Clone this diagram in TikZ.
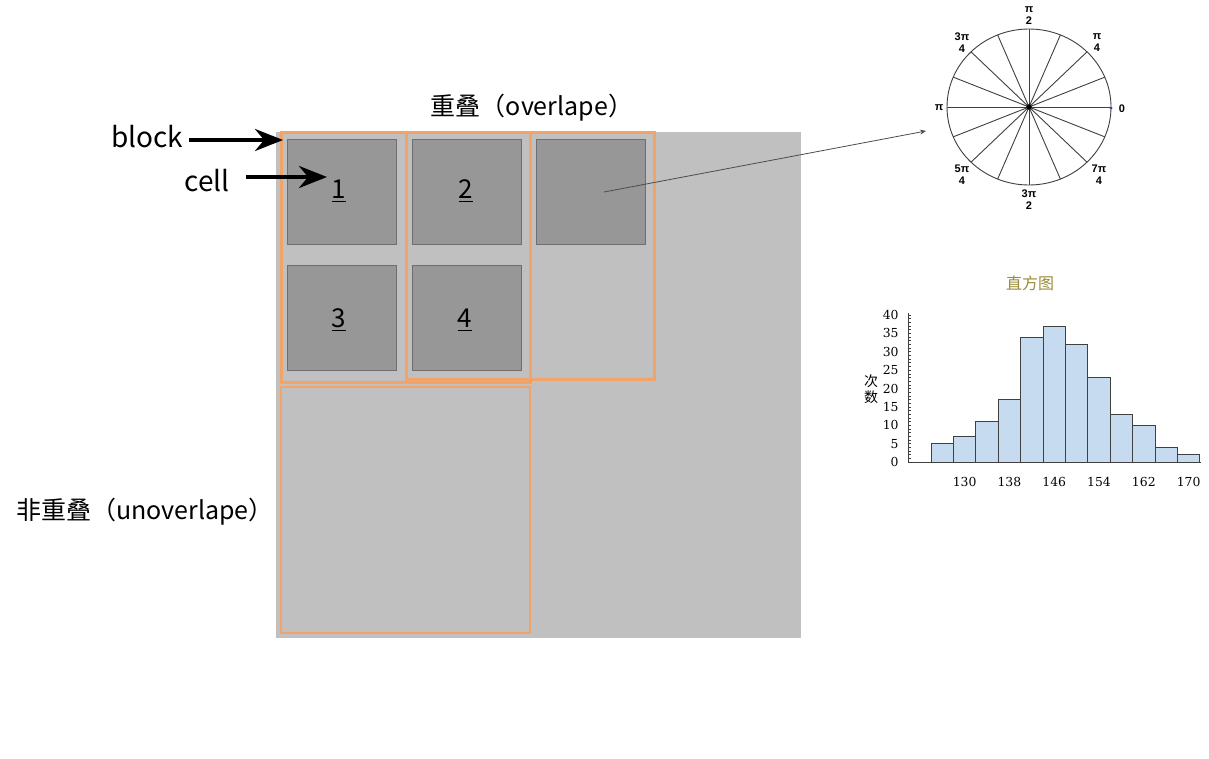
\documentclass[tikz,border=0pt]{standalone}
\usepackage{fontspec}
\usepackage{xcolor}
\usetikzlibrary{arrows.meta}
\usetikzlibrary{math}
\newfontfamily\cjk{Noto Sans CJK SC}
\newfontfamily\numfont{DejaVu Serif}
\newfontfamily\dialfont{Liberation Sans}
\definecolor{sheet}{HTML}{C0C0C0}
\definecolor{cellgray}{HTML}{979797}
\definecolor{celledge}{HTML}{6E6E6E}
\definecolor{blockorange}{HTML}{F2A368}
\definecolor{barblue}{HTML}{C6DAF0}
\definecolor{titleolive}{HTML}{9A8C3A}

\begin{document}
\begin{tikzpicture}[x=0.5pt,y=-0.5pt,
  cellbox/.style={draw=celledge,fill=cellgray,line width=0.5pt,
    minimum width=54.5pt,minimum height=52.5pt,inner sep=0pt},
  blockline/.style={draw=blockorange,line width=1.5pt},
  blockthin/.style={draw=blockorange,line width=0.8pt},
  word/.style={font=\cjk\fontsize{14}{16}\selectfont,inner sep=1pt},
  tag/.style={font=\cjk\fontsize{12.5}{14}\selectfont,inner sep=1pt},
  numtxt/.style={font=\cjk\fontsize{13}{15}\selectfont,inner sep=1pt},
  bigarrow/.style={line width=2pt,-{Stealth[length=14pt,width=11pt]}},
  pointer/.style={draw=black!70,line width=0.4pt,-{Stealth[length=3pt,width=2.5pt]}},
  dialline/.style={draw=black!75,line width=0.45pt},
  dialtxt/.style={font=\dialfont\bfseries\fontsize{5.5}{6}\selectfont,align=center,inner sep=0pt},
  histbar/.style={draw=black!75,fill=barblue,line width=0.5pt},
  axisline/.style={draw=black!75,line width=0.5pt},
  ylab/.style={font=\numfont\fontsize{6.2}{7}\selectfont,anchor=east,inner sep=0pt},
  xlab/.style={font=\numfont\fontsize{6.2}{7}\selectfont,inner sep=0pt}]
\tikzmath{
\hx=931; \hy=462; \bw=22.4; \hu=3.675;
\cx=1029; \cy=107; \rx=82; \ry=78;
}
\fill[white] (0,0) rectangle (1209,759);
\useasboundingbox (0,0) rectangle (1209,759);

% image with cells
\fill[sheet] (276,132) rectangle (801,638);
\node[cellbox] (c1) at (341.5,192.5) {};
\node[cellbox] (c2) at (466.5,192.5) {};
\node[cellbox] (c5) at (591,192.5) {};
\node[cellbox] (c3) at (341.5,317.5) {};
\node[cellbox] (c4) at (466.5,317.5) {};
\node[numtxt] (n1) at (339,191) {\underline{1}};
\node[numtxt] (n2) at (466,191) {\underline{2}};
\node[numtxt] (n3) at (339,320) {\underline{3}};
\node[numtxt] (n4) at (465,320) {\underline{4}};

% blocks
\draw[blockline] (281,133) rectangle (530,382);
\draw[blockline] (406,133) rectangle (654,379);
\draw[blockthin] (281,387) rectangle (530,633);

\node[tag] (ovl) at (532,108) {重叠（overlape）};
\node[tag] (unovl) at (145,512) {非重叠（unoverlape）};

\node[word] (blocktxt) at (147,137) {block};
\node[word] (celltxt) at (207,181) {cell};
\coordinate (blockhit) at (283,140);
\coordinate (cellhit) at (327,177);
\draw[bigarrow] ([xshift=2pt]blocktxt.east |- blockhit) -- (blockhit);
\draw[bigarrow] ([xshift=7pt]celltxt.east |- cellhit) -- (cellhit);

% dial
\coordinate (dialc) at (\cx,\cy);
\draw[dialline] (dialc) ellipse [x radius=41pt, y radius=39pt];
\foreach \a in {0,22.5,...,337.5}
  \draw[dialline] (dialc) -- ({\cx+\rx*cos(\a)},{\cy-\ry*sin(\a)});
\fill (dialc) circle (1.4pt);
\fill[blue!50!gray] (1111,108) circle (0.8pt);
\node[dialtxt] (d0) at (1122,109) {0};
\node[dialtxt] (d1) at (1097,43) {π\\4};
\node[dialtxt] (d2) at (1029,16) {π\\2};
\node[dialtxt] (d3) at (962,43) {3π\\4};
\node[dialtxt] (d4) at (939,108) {π};
\node[dialtxt] (d5) at (962,175) {5π\\4};
\node[dialtxt] (d6) at (1029,200) {3π\\2};
\node[dialtxt] (d7) at (1099,175) {7π\\4};

\coordinate (tap) at (604,192);
\coordinate (dialhit) at (926,131);
\draw[pointer] (tap) -- (dialhit);

% histogram
\node[font=\cjk\fontsize{8}{9}\selectfont,text=titleolive,inner sep=0pt] (htitle) at (1030,283) {直方图};
\node[font=\cjk\fontsize{7}{8}\selectfont,align=center,inner sep=0pt] (hylab) at (871,389) {次\\数};
\foreach \h [count=\i from 0] in {5,7,11,17,34,37,32,23,13,10,4,2}
  \draw[histbar] ({\hx+\i*\bw},\hy) rectangle ++(\bw,{-\h*\hu});
\foreach \k in {0,...,40}
  \draw[axisline,line width=0.3pt] (908,{\hy-\k*\hu}) -- ++(3,0);
\draw[axisline] (908,313) -- (908,\hy) -- (1201,\hy);
\foreach \k in {0,5,...,40}
  \node[ylab] at (899,{\hy-\k*\hu}) {\k};
\foreach \v [count=\i] in {130,138,146,154,162,170}
  \node[xlab] at ({\hx+(2*\i-0.5)*\bw},482) {\v};
\end{tikzpicture}
\end{document}
